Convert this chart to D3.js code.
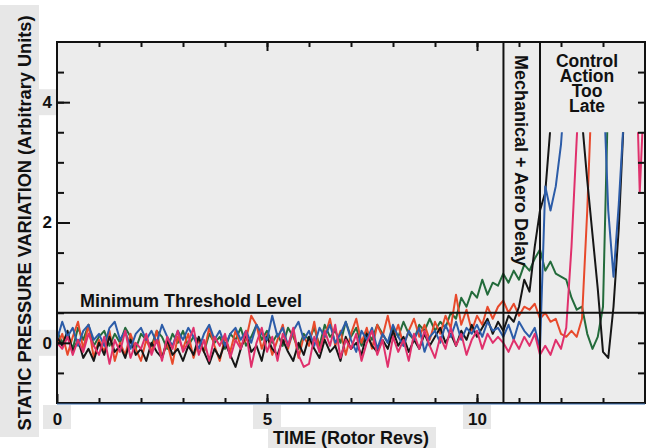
<!DOCTYPE html>
<html lang="en">
<head>
<meta charset="UTF-8">
<title>Static pressure variation</title>
<script src="https://d3js.org/d3.v7.min.js"></script>
<style>
    body, html {
        margin: 0;
        padding: 0;
        background: #ffffff;
    }
    svg text {
        font-family: 'Liberation Sans', Arial, sans-serif;
        font-weight: bold;
        fill: #111;
    }
</style>
</head>
<body>
<svg id="chart" width="651" height="448"></svg>
<script>
    // sampling of the traces (rotor revs)
    const STEP = 0.125;
    const TAIL_START = 10.5;

    // noisy part, 8 samples per rev, from rev 0 to 10.375
    const blackNoise = [
        0.10, -0.05, 0.20, -0.15, 0.05, -0.25, -0.10, -0.30,
        0.00, -0.20, 0.10, -0.15, -0.05, -0.25, 0.05, -0.20,
        -0.10, -0.30, 0.00, -0.15, -0.25, 0.05, -0.20, -0.10,
        -0.30, -0.05, -0.20, 0.10, -0.15, -0.35, -0.10, -0.25,
        0.00, -0.20, -0.40, -0.10, 0.15, -0.15, -0.05, -0.30,
        0.10, -0.10, -0.20, 0.05, -0.15, -0.30, 0.00, -0.20,
        0.10, -0.10, -0.25, 0.05, -0.15, -0.05, -0.30, 0.10,
        -0.10, 0.00, -0.20, 0.15, -0.05, -0.15, 0.05, -0.10,
        0.20, -0.05, 0.10, -0.15, 0.05, -0.10, 0.15, -0.05,
        0.10, 0.25, 0.00, 0.15, -0.05, 0.20, 0.05, 0.30,
        0.10, 0.25, 0.40, 0.15
    ];
    const blueNoise = [
        0.05, 0.35, 0.10, 0.25, -0.05, 0.20, 0.30, 0.05,
        0.15, -0.05, 0.25, 0.35, 0.05, 0.20, -0.10, 0.15,
        0.25, 0.05, 0.20, 0.00, 0.30, 0.10, -0.05, 0.20,
        0.05, 0.25, 0.10, -0.10, 0.15, 0.30, 0.05, 0.20,
        -0.05, 0.15, 0.25, 0.05, 0.20, 0.00, 0.30, 0.15,
        0.05, 0.45, 0.10, 0.25, -0.05, 0.20, 0.35, 0.05,
        0.20, -0.05, 0.25, 0.10, 0.30, 0.00, 0.15, 0.35,
        0.05, -0.15, 0.20, 0.05, 0.25, -0.10, 0.15, 0.00,
        0.30, 0.10, -0.05, 0.20, 0.05, 0.25, -0.15, 0.10,
        0.20, 0.00, 0.30, 0.10, 0.35, 0.05, 0.25, 0.15,
        0.30, 0.10, 0.35, 0.20
    ];
    const greenNoise = [
        0.20, 0.00, 0.15, -0.10, 0.25, 0.05, 0.30, -0.05,
        0.10, 0.20, -0.05, 0.15, 0.00, 0.25, 0.10, -0.10,
        0.15, 0.05, -0.05, 0.20, 0.10, -0.10, 0.15, 0.00,
        0.20, -0.05, 0.10, 0.05, -0.15, 0.15, 0.00, 0.10,
        -0.10, 0.15, 0.05, 0.25, -0.05, 0.10, 0.30, 0.05,
        0.20, 0.00, 0.15, -0.05, 0.25, 0.10, -0.10, 0.15,
        0.05, 0.25, -0.05, 0.30, 0.10, 0.20, 0.00, 0.35,
        0.10, 0.25, -0.05, 0.20, 0.05, 0.30, 0.15, 0.00,
        0.25, 0.10, 0.35, 0.15, 0.05, 0.30, 0.20, 0.40,
        0.20, 0.35, 0.25, 0.50, 0.40, 0.75, 0.60, 0.85,
        0.75, 1.05, 0.80, 1.00
    ];
    const orangeNoise = [
        -0.05, 0.15, -0.20, 0.10, 0.35, -0.10, 0.30, -0.25,
        0.05, -0.15, 0.20, -0.30, 0.00, -0.20, 0.15, -0.10,
        -0.30, 0.05, -0.15, 0.20, -0.25, 0.00, -0.35, 0.10,
        -0.10, 0.15, -0.25, 0.05, -0.15, 0.25, -0.05, -0.30,
        0.10, -0.15, 0.20, -0.05, 0.05, 0.45, 0.30, -0.10,
        0.15, -0.20, 0.05, 0.30, -0.10, 0.20, -0.25, 0.10,
        -0.05, 0.35, -0.15, 0.10, 0.40, -0.05, 0.20, -0.20,
        0.15, 0.40, 0.00, 0.25, -0.10, 0.30, 0.10, 0.45,
        0.05, 0.30, -0.05, 0.20, 0.40, 0.10, 0.30, 0.05,
        0.35, 0.15, 0.45, 0.25, 0.80, 0.30, 0.55, 0.20,
        0.45, 0.30, 0.60, 0.40
    ];
    const pinkNoise = [
        0.00, -0.10, 0.10, -0.20, 0.05, -0.15, 0.15, -0.05,
        -0.20, 0.10, -0.35, 0.05, -0.15, 0.20, -0.25, 0.00,
        -0.10, 0.15, -0.20, 0.05, -0.30, 0.10, -0.10, 0.20,
        -0.15, 0.00, 0.25, -0.20, 0.05, -0.30, 0.10, -0.05,
        0.15, -0.25, 0.05, -0.10, 0.20, -0.40, 0.00, 0.25,
        -0.15, 0.10, -0.30, 0.15, -0.05, 0.25, -0.20, -0.40,
        -0.35, 0.10, -0.15, 0.20, -0.05, 0.30, -0.25, 0.05,
        -0.10, 0.15, -0.30, 0.00, 0.20, -0.20, 0.05, -0.40,
        0.10, -0.15, 0.05, -0.30, 0.15, -0.10, 0.20, -0.05,
        -0.25, 0.10, -0.10, 0.25, -0.05, 0.15, -0.20, 0.05,
        0.20, -0.10, 0.15, 0.00
    ];

    // stall onset, from rev 10.5 to 14 (values above 3.5 run off the plotted range)
    const blackTail = [
        0.35, 0.20, 0.45, 0.35, 0.60, 1.05, 0.85, 1.60,
        2.20, 2.50, 3.60, 4.50, 6, 6, 6, 6,
        3.70, 2.70, 1.80, 0.90, -0.15, -0.25, 0.60, 1.90,
        3.80, 6, 6, 6, 6
    ];
    const blueTail = [
        0.25, 0.10, 0.30, 0.05, 0.35, 0.20, 0.10, 0.25,
        -0.10, 2.60, 2.20, 2.60, 3.30, 4.50, 6, 6,
        6, 6, 6, 6, 4.50, 2.20, 1.10, 2.30,
        3.80, 5, 6, 6, 6
    ];
    const greenTail = [
        0.95, 1.15, 1.00, 1.20, 1.05, 1.30, 1.20, 1.40,
        1.55, 1.20, 1.35, 1.15, 1.10, 1.05, 0.75, 0.55,
        0.60, 0.15, -0.10, 0.10, 0.60, 4.20, 6, 6,
        6, 6, 6, 6, 6
    ];
    const orangeTail = [
        0.60, 0.70, 0.50, 0.65, 0.45, 0.60, 0.55, 0.65,
        0.40, 0.50, 0.35, 0.40, 0.15, 0.10, 0.20, 0.10,
        0.40, 2.20, 4.50, 6, 6, 6, 6, 6,
        6, 6, 6, 6, 6
    ];
    const pinkTail = [
        0.10, 0.00, -0.15, 0.05, -0.10, 0.10, -0.05, 0.15,
        -0.20, -0.05, -0.20, 0.05, -0.10, 0.25, 1.60, 3.40,
        5, 6, 6, 6, 6, 6, 6, 6,
        6, 6, 5.5, 2.5, 4.5
    ];

    const thresholdLevel = 0.5;
    const delayStart = 10.63;
    const delayEnd = 11.5;
    const yTickLabels = [0, 2, 4];
    const xTickLabels = [0, 5, 10];
    const lateLines = ['Control', 'Action', 'Too', 'Late'];

    const series = [
        { name: 'green', color: '#236b3b', noise: greenNoise, tail: greenTail },
        { name: 'orange', color: '#e8492b', noise: orangeNoise, tail: orangeTail },
        { name: 'black', color: '#161616', noise: blackNoise, tail: blackTail },
        { name: 'blue', color: '#2c5ca8', noise: blueNoise, tail: blueTail },
        { name: 'pink', color: '#e0306c', noise: pinkNoise, tail: pinkTail }
    ];

    const svg = d3.select('#chart');
    const W = +svg.attr('width');
    const H = +svg.attr('height');
    const margin = { top: 42, right: 6, bottom: 45, left: 57 };
    const width = W - margin.left - margin.right;
    const height = H - margin.top - margin.bottom;
    const paper = '#e7e7e7';

    const x = d3.scaleLinear().domain([0, 14]).range([0, width]);
    const y = d3.scaleLinear().domain([-1, 5]).range([height, 0]);

    // scanned-paper grey patches behind the outer labels
    svg.append('rect').attr('x', 0).attr('y', 5).attr('width', 39).attr('height', 432).attr('fill', paper);
    svg.append('rect').attr('x', 268).attr('y', 427).attr('width', 168).attr('height', H - 427).attr('fill', paper);
    [4, 0].forEach(v => {
        svg.append('rect').attr('x', 37).attr('y', margin.top + y(v) - 13)
            .attr('width', 20).attr('height', 26).attr('fill', paper);
    });
    xTickLabels.forEach(v => {
        svg.append('rect').attr('x', margin.left + x(v) - 14).attr('y', margin.top + height + 2)
            .attr('width', 28).attr('height', 24).attr('fill', paper);
    });

    const g = svg.append('g').attr('transform', `translate(${margin.left},${margin.top})`);

    g.append('rect')
        .attr('width', width)
        .attr('height', height)
        .attr('fill', '#ececec');

    g.append('clipPath').attr('id', 'clip')
        .append('rect')
        .attr('x', 0)
        .attr('y', y(3.5))
        .attr('width', width)
        .attr('height', height - y(3.5));

    function toPoints(s) {
        const a = s.noise.map((v, i) => [i * STEP, v]);
        const b = s.tail.map((v, j) => [TAIL_START + j * STEP, v]);
        return a.filter(p => p[0] < TAIL_START).concat(b);
    }

    const line = d3.line()
        .x(d => x(d[0]))
        .y(d => y(d[1]));

    const traces = g.append('g').attr('clip-path', 'url(#clip)');
    series.forEach(s => {
        traces.append('path')
            .datum(toPoints(s))
            .attr('fill', 'none')
            .attr('stroke', s.color)
            .attr('stroke-width', 2)
            .attr('stroke-linejoin', 'round')
            .attr('d', line);
    });

    // axes (ticks point inward)
    function styleAxis(sel) {
        sel.select('.domain').remove();
        sel.selectAll('line').attr('stroke', '#111').attr('stroke-width', 2);
        sel.selectAll('text').style('font-size', '17px').style('font-family', "'Liberation Sans', Arial, sans-serif").style('font-weight', 'bold').attr('fill', '#111');
    }

    const minorY = d3.range(-0.5, 5, 0.5);
    const minorX = d3.range(1, 14, 1);

    g.append('g').call(d3.axisLeft(y).tickValues(minorY).tickSize(-7).tickFormat('')).call(styleAxis);
    g.append('g').call(d3.axisLeft(y).tickValues(yTickLabels).tickSize(-13).tickPadding(5).tickFormat(d3.format('d'))).call(styleAxis);
    g.append('g').attr('transform', `translate(${width},0)`)
        .call(d3.axisRight(y).tickValues(minorY).tickSize(-7).tickFormat('')).call(styleAxis);

    g.append('g').call(d3.axisTop(x).tickValues(minorX).tickSize(-5).tickFormat('')).call(styleAxis);
    g.append('g').call(d3.axisTop(x).tickValues([5, 10]).tickSize(-9).tickFormat('')).call(styleAxis);
    g.append('g').attr('transform', `translate(0,${height})`)
        .call(d3.axisBottom(x).tickValues(minorX).tickSize(-5).tickFormat('')).call(styleAxis);
    g.append('g').attr('transform', `translate(0,${height})`)
        .call(d3.axisBottom(x).tickValues(xTickLabels).tickSize(-9).tickPadding(10).tickFormat(d3.format('d'))).call(styleAxis);

    // threshold and delay window
    g.append('line')
        .attr('x1', 0).attr('x2', width)
        .attr('y1', y(thresholdLevel)).attr('y2', y(thresholdLevel))
        .attr('stroke', '#111').attr('stroke-width', 2);

    [delayStart, delayEnd].forEach(v => {
        g.append('line')
            .attr('x1', x(v)).attr('x2', x(v))
            .attr('y1', 0).attr('y2', height)
            .attr('stroke', '#111').attr('stroke-width', 2);
    });

    // frame (the scan shows a faint blue edge under the bottom rule)
    g.append('rect')
        .attr('width', width)
        .attr('height', height)
        .attr('fill', 'none')
        .attr('stroke', '#111')
        .attr('stroke-width', 2);
    g.append('line')
        .attr('x1', 0).attr('x2', width)
        .attr('y1', height + 1).attr('y2', height + 1)
        .attr('stroke', '#3a6fb0').attr('stroke-width', 1);

    // annotations
    g.append('text')
        .attr('x', 23)
        .attr('y', y(thresholdLevel) - 6)
        .style('font-size', '18px')
        .text('Minimum Threshold Level');

    g.append('text')
        .attr('transform', `translate(${x(delayStart) + 12},13) rotate(90)`)
        .style('font-size', '18px')
        .text('Mechanical + Aero Delay');

    // stacked label, tight leading as in the original figure
    const lateX = x(12.62);
    g.append('text')
        .attr('text-anchor', 'middle')
        .style('font-size', '17.5px')
        .selectAll('tspan')
        .data(lateLines)
        .join('tspan')
        .attr('x', lateX)
        .attr('y', (d, i) => 25 + i * 15)
        .text(d => d);

    // axis titles
    svg.append('text')
        .attr('transform', 'translate(31,223) rotate(-90)')
        .attr('text-anchor', 'middle')
        .style('font-size', '18.2px')
        .text('STATIC PRESSURE VARIATION (Arbitrary Units)');

    svg.append('text')
        .attr('x', margin.left + x(7))
        .attr('y', 444)
        .attr('text-anchor', 'middle')
        .style('font-size', '18px')
        .text('TIME (Rotor Revs)');
</script>
</body>
</html>
